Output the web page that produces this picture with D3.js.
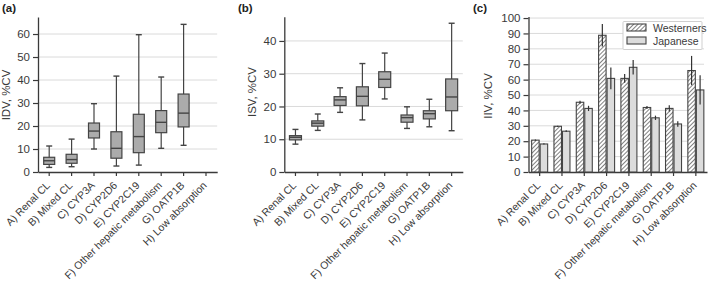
<!DOCTYPE html>
<html>
<head>
<meta charset="utf-8">
<script src="https://cdn.jsdelivr.net/npm/d3@7"></script>
<style>
  html, body { margin: 0; padding: 0; background: #fff; }
  svg { display: block; font-family: "Liberation Sans", Arial, sans-serif; }
</style>
</head>
<body>
<svg id="chart" width="709" height="285"></svg>
<script>
// ---------- data ----------
const categories = ["A) Renal CL", "B) Mixed CL", "C) CYP3A", "D) CYP2D6", "E) CYP2C19",
  "F) Other hepatic metabolism", "G) OATP1B", "H) Low absorption"];

// (a) IDV box plots (null = no data)
const idvMin = [2.0, 2.3, 10.0, 2.6, 3.0, 10.3, 11.6, null];
const idvQ1  = [3.3, 3.8, 14.8, 6.0, 8.4, 17.1, 19.6, null];
const idvMed = [4.9, 5.4, 17.8, 10.3, 15.4, 21.6, 25.6, null];
const idvQ3  = [6.4, 7.7, 21.3, 17.5, 25.1, 26.7, 33.9, null];
const idvMax = [11.3, 14.3, 29.7, 41.7, 59.7, 41.3, 64.2, null];
const idvTicks = [0, 10, 20, 30, 40, 50, 60];

// (b) ISV box plots
const isvMin = [8.5, 12.7, 18.2, 15.9, 22.3, 13.3, 13.8, 12.6];
const isvQ1  = [9.8, 14.0, 20.3, 20.2, 25.8, 15.2, 16.2, 18.7];
const isvMed = [10.6, 14.9, 22.0, 23.1, 28.3, 16.6, 17.8, 22.9];
const isvQ3  = [11.1, 15.6, 23.0, 26.0, 30.6, 17.4, 18.7, 28.4];
const isvMax = [13.0, 17.7, 25.7, 33.1, 36.3, 19.9, 22.2, 45.4];
const isvTicks = [0, 10, 20, 30, 40];

// (c) IIV bar chart
const seriesNames = ["Westerners", "Japanese"];
const iivWest    = [20.7, 29.7, 45.3, 88.8, 60.8, 41.9, 41.3, 65.9];
const iivWestErr = [0.4, 0.4, 1.0, 7.3, 2.8, 1.0, 2.0, 9.5];
const iivJap     = [18.2, 26.5, 41.3, 60.8, 68.0, 35.2, 31.2, 53.3];
const iivJapErr  = [0.4, 0.6, 1.7, 7.0, 4.7, 1.4, 1.8, 9.5];
const iivTicks = [0, 10, 20, 30, 40, 50, 60, 70, 80, 90, 100];

// ---------- styles ----------
const TXT = "#3a3a3a", AX = "#3a3a3a", GRID = "#dadada", BOXFILL = "#ababab", EDGE = "#444";
const svg = d3.select("#chart");

const defs = svg.append("defs");
const pat = defs.append("pattern").attr("id", "hatch").attr("patternUnits", "userSpaceOnUse")
  .attr("width", 3).attr("height", 3).attr("patternTransform", "rotate(45)");
pat.append("rect").attr("width", 3).attr("height", 3).attr("fill", "#fff");
pat.append("line").attr("x1", 0).attr("y1", 0).attr("x2", 0).attr("y2", 3)
  .attr("stroke", "#3c3c3c").attr("stroke-width", 1.3);

function panel(opts) {
  const g = svg.append("g");
  const x = d3.scaleBand().domain(categories).range([opts.x0, opts.x1]).padding(0);
  const y = d3.scaleLinear().domain([0, opts.ymax]).range([opts.yBottom, opts.yTop]);

  // gridlines
  g.append("g").selectAll("line").data(opts.ticks.filter(t => t > 0)).join("line")
    .attr("x1", opts.x0).attr("x2", opts.gridEnd)
    .attr("y1", d => y(d)).attr("y2", d => y(d))
    .attr("stroke", GRID).attr("stroke-width", 1);

  // y axis
  const ya = g.append("g").attr("transform", `translate(${opts.x0},0)`)
    .call(d3.axisLeft(y).tickValues(opts.ticks).tickSize(5).tickPadding(3).tickSizeOuter(0));
  ya.select(".domain").attr("stroke", AX).attr("stroke-width", 1.3);
  ya.selectAll(".tick line").attr("stroke", AX).attr("stroke-width", 1.2);
  ya.selectAll(".tick text").attr("fill", TXT).attr("font-size", 11.5)
    .attr("font-family", "Liberation Sans, Arial, sans-serif");

  // x axis
  const xa = g.append("g").attr("transform", `translate(0,${opts.yBottom})`)
    .call(d3.axisBottom(x).tickSize(4).tickSizeOuter(0));
  xa.select(".domain").attr("stroke", AX).attr("stroke-width", 1.3);
  xa.selectAll(".tick line").attr("stroke", AX).attr("stroke-width", 1.2);
  xa.selectAll(".tick text").attr("fill", TXT).attr("font-size", 10.5)
    .attr("font-family", "Liberation Sans, Arial, sans-serif")
    .attr("text-anchor", "end").attr("y", 0).attr("dy", 0)
    .attr("transform", "translate(1.5,14) rotate(-45)");

  // y title
  g.append("text")
    .attr("transform", `translate(${opts.titleX},${opts.titleY}) rotate(-90)`)
    .attr("text-anchor", "middle").attr("fill", TXT).attr("font-size", 11.5)
    .text(opts.yTitle);

  // panel label
  g.append("text").attr("x", opts.labelX).attr("y", 12).attr("font-weight", "bold")
    .attr("font-size", 11.5).attr("fill", "#222").text(opts.label);

  return { g, x, y };
}

function boxes(p, mins, q1s, meds, q3s, maxs, boxW) {
  const data = categories.map((c, i) => ({ c, min: mins[i], q1: q1s[i], med: meds[i], q3: q3s[i], max: maxs[i] }))
    .filter(d => d.med !== null);
  const bw = p.x.bandwidth();
  const gg = p.g.append("g").selectAll("g").data(data).join("g")
    .attr("transform", d => `translate(${p.x(d.c) + bw / 2},0)`);
  gg.append("line").attr("x1", 0).attr("x2", 0).attr("y1", d => p.y(d.min)).attr("y2", d => p.y(d.max))
    .attr("stroke", EDGE).attr("stroke-width", 1.2);
  gg.append("line").attr("x1", -3).attr("x2", 3).attr("y1", d => p.y(d.max)).attr("y2", d => p.y(d.max))
    .attr("stroke", EDGE).attr("stroke-width", 1.4);
  gg.append("line").attr("x1", -3).attr("x2", 3).attr("y1", d => p.y(d.min)).attr("y2", d => p.y(d.min))
    .attr("stroke", EDGE).attr("stroke-width", 1.4);
  gg.append("rect").attr("x", -boxW / 2).attr("width", boxW)
    .attr("y", d => p.y(d.q3)).attr("height", d => p.y(d.q1) - p.y(d.q3))
    .attr("fill", BOXFILL).attr("stroke", EDGE).attr("stroke-width", 1.2);
  gg.append("line").attr("x1", -boxW / 2).attr("x2", boxW / 2)
    .attr("y1", d => p.y(d.med)).attr("y2", d => p.y(d.med))
    .attr("stroke", EDGE).attr("stroke-width", 1.4);
}

// ---------- (a) ----------
const pa = panel({ x0: 38, x1: 217.2, gridEnd: 217.2, yTop: 17, yBottom: 172, ymax: 67.4,
  ticks: idvTicks, yTitle: "IDV, %CV", titleX: 9.5, titleY: 95, label: "(a)", labelX: 2 });
boxes(pa, idvMin, idvQ1, idvMed, idvQ3, idvMax, 11);

// ---------- (b) ----------
const pb = panel({ x0: 284.3, x1: 462.8, gridEnd: 462.8, yTop: 16.7, yBottom: 172, ymax: 47.4,
  ticks: isvTicks, yTitle: "ISV, %CV", titleX: 256, titleY: 92, label: "(b)", labelX: 238 });
boxes(pb, isvMin, isvQ1, isvMed, isvQ3, isvMax, 12);

// ---------- (c) ----------
const pc = panel({ x0: 528.5, x1: 707, gridEnd: 704, yTop: 16.5, yBottom: 172, ymax: 101,
  ticks: iivTicks, yTitle: "IIV, %CV", titleX: 492, titleY: 96, label: "(c)", labelX: 473 });
{
  const sub = d3.scaleBand().domain(seriesNames).range([-8, 8]).paddingInner(0.12);
  const bw = pc.x.bandwidth();
  const rows = [];
  categories.forEach((c, i) => {
    rows.push({ c, s: "Westerners", v: iivWest[i], e: iivWestErr[i] });
    rows.push({ c, s: "Japanese", v: iivJap[i], e: iivJapErr[i] });
  });
  const gg = pc.g.append("g").selectAll("g").data(rows).join("g")
    .attr("transform", d => `translate(${pc.x(d.c) + bw / 2 + sub(d.s)},0)`);
  gg.append("rect").attr("x", 0).attr("width", sub.bandwidth())
    .attr("y", d => pc.y(d.v)).attr("height", d => pc.y(0) - pc.y(d.v))
    .attr("fill", d => d.s === "Westerners" ? "url(#hatch)" : "#dcdcdc")
    .attr("stroke", EDGE).attr("stroke-width", 1.1);
  gg.append("line").attr("x1", sub.bandwidth() / 2).attr("x2", sub.bandwidth() / 2)
    .attr("y1", d => pc.y(d.v - d.e)).attr("y2", d => pc.y(d.v + d.e))
    .attr("stroke", "#333").attr("stroke-width", 1.2);

  // legend
  const lg = pc.g.append("g").attr("transform", "translate(623,21.5)");
  lg.append("rect").attr("width", 79).attr("height", 28).attr("fill", "#fff")
    .attr("stroke", "#cfcfcf").attr("stroke-width", 1).attr("rx", 1);
  seriesNames.forEach((s, i) => {
    lg.append("rect").attr("x", 4).attr("y", 2.5 + i * 13).attr("width", 19).attr("height", 7)
      .attr("fill", s === "Westerners" ? "url(#hatch)" : "#dcdcdc")
      .attr("stroke", EDGE).attr("stroke-width", 1.1);
    lg.append("text").attr("x", 30).attr("y", 10 + i * 13).attr("font-size", 10.5)
      .attr("fill", TXT).text(s);
  });
}
</script>
</body>
</html>
